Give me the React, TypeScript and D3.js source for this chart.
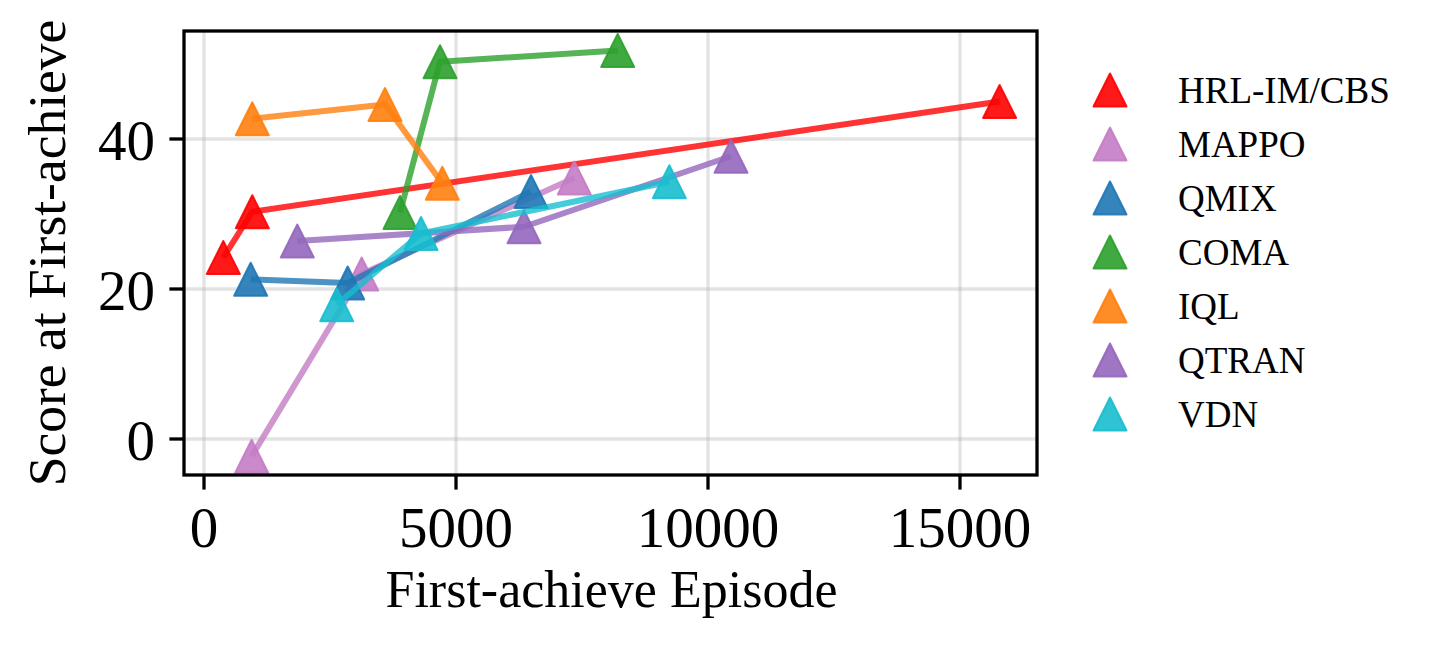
import React, {useEffect, useRef} from 'react';
import * as d3 from 'd3';

// first-achieve episode / score pairs
const methods = ['HRL-IM/CBS', 'MAPPO', 'QMIX', 'COMA', 'IQL', 'QTRAN', 'VDN'];
const colors = ['#ff0000', '#c47cc4', '#1f77b4', '#2ca02c', '#ff7f0e', '#9467bd', '#17becf'];

const hrlEpisodes = [383, 958, 15786];
const hrlScores = [24.2, 30.3, 45.0];
const mappoEpisodes = [946, 3129, 7347];
const mappoScores = [-2.3, 22.0, 34.8];
const qmixEpisodes = [926, 2851, 6488];
const qmixScores = [21.3, 20.8, 33.0];
const comaEpisodes = [3889, 4683, 8208];
const comaScores = [30.2, 50.3, 51.8];
const iqlEpisodes = [958, 3591, 4728];
const iqlScores = [42.7, 44.6, 34.1];
const qtranEpisodes = [1851, 6349, 10456];
const qtranScores = [26.4, 28.3, 37.7];
const vdnEpisodes = [2633, 4306, 9233];
const vdnScores = [17.9, 27.4, 34.3];

const xTicks = [0, 5000, 10000, 15000];
const yTicks = [0, 20, 40];

const WIDTH = 1436;
const HEIGHT = 656;
const FONT = '"Liberation Serif", "Times New Roman", serif';

interface Pt { x: number; y: number; }

const App: React.FC = () => {
    const svgRef = useRef<SVGSVGElement | null>(null);

    useEffect(() => {
        if (svgRef.current) {
            drawChart();
        }
    }, []);

    const drawChart = () => {
        const svg = d3.select(svgRef.current);
        svg.selectAll('*').remove();

        const left = 184, right = 1037, top = 31, bottom = 475;
        const x = d3.scaleLinear().domain([-397, 16528]).range([left, right]);
        const y = d3.scaleLinear().domain([-4.8, 54.4]).range([bottom, top]);

        const series: Pt[][] = [
            [hrlEpisodes, hrlScores],
            [mappoEpisodes, mappoScores],
            [qmixEpisodes, qmixScores],
            [comaEpisodes, comaScores],
            [iqlEpisodes, iqlScores],
            [qtranEpisodes, qtranScores],
            [vdnEpisodes, vdnScores],
        ].map(([xs, ys]) => xs.map((v, i) => ({x: v, y: ys[i]})));

        svg.append('rect').attr('width', WIDTH).attr('height', HEIGHT).attr('fill', 'white');

        // grid
        const grid = svg.append('g');
        grid.selectAll('.gx').data(xTicks).enter().append('line')
            .attr('x1', (d) => x(d)).attr('x2', (d) => x(d))
            .attr('y1', top).attr('y2', bottom)
            .attr('stroke', '#b0b0b0').attr('stroke-opacity', 0.35).attr('stroke-width', 3.3);
        grid.selectAll('.gy').data(yTicks).enter().append('line')
            .attr('x1', left).attr('x2', right)
            .attr('y1', (d) => y(d)).attr('y2', (d) => y(d))
            .attr('stroke', '#b0b0b0').attr('stroke-opacity', 0.35).attr('stroke-width', 3.3);

        // triangle marker (matplotlib '^')
        const tri = (cx: number, cy: number, r: number) =>
            `M${cx},${cy - r}L${cx + r},${cy + r}L${cx - r},${cy + r}Z`;

        const line = d3.line<Pt>().x((d) => x(d.x)).y((d) => y(d.y));

        series.forEach((pts, i) => {
            const g = svg.append('g');
            g.append('path')
                .attr('d', line(pts) as string)
                .attr('fill', 'none')
                .attr('stroke', colors[i])
                .attr('stroke-opacity', 0.8)
                .attr('stroke-width', 6)
                .attr('stroke-linejoin', 'round')
                .attr('stroke-linecap', 'butt');
            g.selectAll('path.m').data(pts).enter().append('path')
                .attr('class', 'm')
                .attr('d', (d) => tri(x(d.x), y(d.y), 16.5))
                .attr('fill', colors[i])
                .attr('fill-opacity', 0.9)
                .attr('stroke', colors[i])
                .attr('stroke-opacity', 0.9)
                .attr('stroke-width', 2)
                .attr('stroke-linejoin', 'round');
        });

        // frame
        svg.append('rect')
            .attr('x', left).attr('y', top)
            .attr('width', right - left).attr('height', bottom - top)
            .attr('fill', 'none').attr('stroke', 'black').attr('stroke-width', 3.3);

        // x ticks
        const xt = svg.append('g');
        xt.selectAll('line').data(xTicks).enter().append('line')
            .attr('x1', (d) => x(d)).attr('x2', (d) => x(d))
            .attr('y1', bottom).attr('y2', bottom + 14.6)
            .attr('stroke', 'black').attr('stroke-width', 3.3);
        xt.selectAll('text').data(xTicks).enter().append('text')
            .attr('x', (d) => x(d)).attr('y', 547)
            .attr('text-anchor', 'middle')
            .style('font-family', FONT).style('font-size', '57px')
            .text((d) => String(d));

        // y ticks
        const yt = svg.append('g');
        yt.selectAll('line').data(yTicks).enter().append('line')
            .attr('x1', left - 14.6).attr('x2', left)
            .attr('y1', (d) => y(d)).attr('y2', (d) => y(d))
            .attr('stroke', 'black').attr('stroke-width', 3.3);
        yt.selectAll('text').data(yTicks).enter().append('text')
            .attr('x', 155).attr('y', (d) => y(d) + 20.5)
            .attr('text-anchor', 'end')
            .style('font-family', FONT).style('font-size', '57px')
            .text((d) => String(d));

        // axis labels
        svg.append('text')
            .attr('x', (left + right) / 2 + 1).attr('y', 607)
            .attr('text-anchor', 'middle')
            .style('font-family', FONT).style('font-size', '52px')
            .text('First-achieve Episode');
        svg.append('text')
            .attr('transform', `translate(65,${(top + bottom) / 2}) rotate(-90)`)
            .attr('text-anchor', 'middle')
            .style('font-family', FONT).style('font-size', '53.5px')
            .text('Score at First-achieve');

        // legend
        const legend = svg.append('g');
        methods.forEach((m, i) => {
            const cy = 90 + i * 54;
            legend.append('path')
                .attr('d', tri(1110, cy, 16.5))
                .attr('fill', colors[i]).attr('fill-opacity', 0.9)
                .attr('stroke', colors[i]).attr('stroke-opacity', 0.9)
                .attr('stroke-width', 2).attr('stroke-linejoin', 'round');
            legend.append('text')
                .attr('x', 1178).attr('y', cy + 12.5)
                .style('font-family', FONT).style('font-size', '37px')
                .text(m);
        });
    };

    return (
        <svg ref={svgRef} width={WIDTH} height={HEIGHT}
             style={{position: 'absolute', left: 0, top: 0}}/>
    );
};

export default App;
